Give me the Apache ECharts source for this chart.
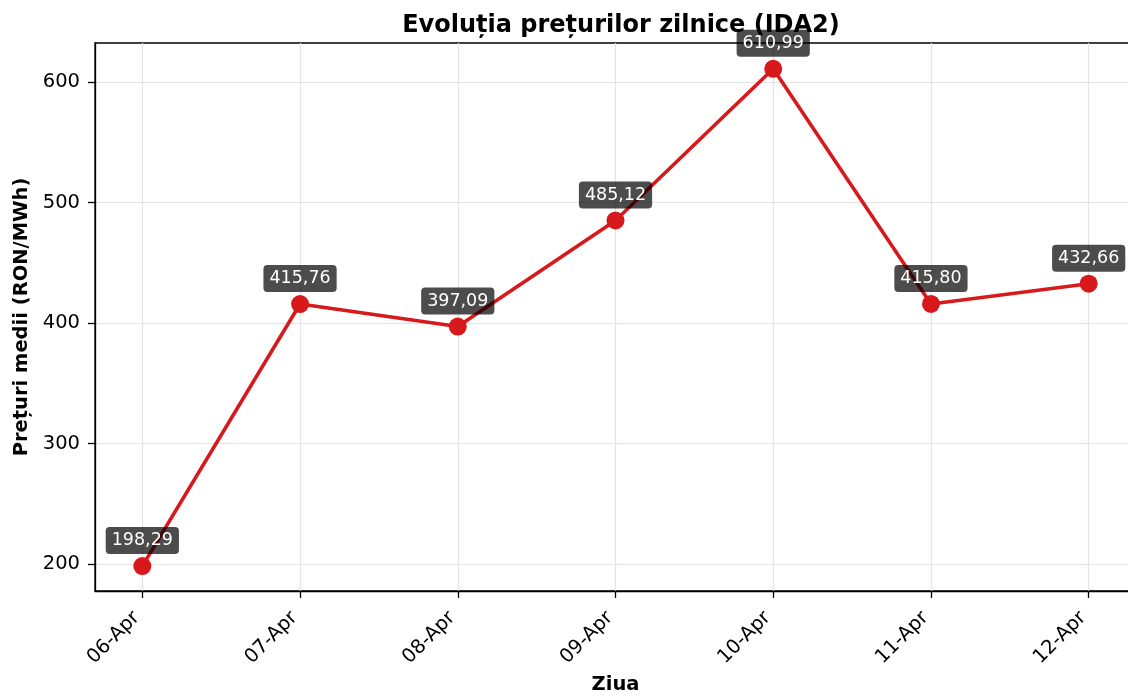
<!DOCTYPE html>
<html>
<head>
<meta charset="utf-8">
<script src="https://cdn.jsdelivr.net/npm/echarts@6/dist/echarts.min.js"></script>
<style>html,body{margin:0;padding:0;background:#fff;}#c{width:1128px;height:696px;}</style>
</head>
<body>
<div id="c"></div>
<script>
const categories = ['06-Apr','07-Apr','08-Apr','09-Apr','10-Apr','11-Apr','12-Apr'];
const prices = [198.29, 415.76, 397.09, 485.12, 610.99, 415.80, 432.66];
const yTicks = [200, 300, 400, 500, 600];

const FONT = 'DejaVu Sans';
const chart = echarts.init(document.getElementById('c'), null, {renderer: 'canvas'});
const idx = categories.map((_, i) => i);
chart.setOption({
  animation: false,
  backgroundColor: '#fff',
  textStyle: {fontFamily: FONT},
  title: {
    text: 'Evoluția prețurilor zilnice (IDA2)',
    left: 616, textAlign: 'center', top: 9,
    textStyle: {fontFamily: FONT, fontSize: 24, fontWeight: 'bold', color: '#000'}
  },
  grid: {left: 95, top: 43, width: 1041, height: 548, show: true, borderColor: '#000', borderWidth: 1.3,
    backgroundColor: 'transparent', containLabel: false, outerBoundsMode: 'none'},
  xAxis: {
    type: 'value', min: -0.3, max: 6.3,
    name: 'Ziua', nameLocation: 'middle', nameGap: 82,
    nameTextStyle: {fontFamily: FONT, fontSize: 19.5, fontWeight: 'bold', color: '#000'},
    axisLine: {show: true, onZero: false, lineStyle: {color: '#000', width: 1.3}},
    axisTick: {show: true, length: 7, customValues: idx, lineStyle: {color: '#000', width: 1.3}},
    axisLabel: {customValues: idx, rotate: 45, margin: 18, padding: [0, 8, 0, 0], fontSize: 19.5, color: '#000', fontFamily: FONT,
      formatter: v => categories[Math.round(v)] || ''},
    splitLine: {show: true, lineStyle: {color: '#e3e3e3', width: 1.2}}
  },
  yAxis: {
    type: 'value', min: 177.6, max: 632.4,
    name: 'Prețuri medii (RON/MWh)', nameLocation: 'middle', nameGap: 63,
    nameTextStyle: {fontFamily: FONT, fontSize: 19.5, fontWeight: 'bold', color: '#000'},
    axisLine: {show: true, onZero: false, lineStyle: {color: '#000', width: 1.3}},
    axisTick: {show: true, length: 7, customValues: yTicks, lineStyle: {color: '#000', width: 1.3}},
    axisLabel: {customValues: yTicks, margin: 15, fontSize: 19.5, color: '#000', fontFamily: FONT},
    splitLine: {show: true, lineStyle: {color: '#e3e3e3', width: 1.2}}
  },
  series: [{
    type: 'line',
    data: prices.map((p, i) => [i, p]),
    symbol: 'circle', symbolSize: 18,
    itemStyle: {color: '#d7191c'},
    lineStyle: {color: '#d7191c', width: 3.6},
    label: {
      show: true, position: 'top', distance: 3,
      formatter: p => p.value[1].toFixed(2).replace('.', ','),
      color: '#fff', fontSize: 17.5, fontFamily: FONT, lineHeight: 19,
      backgroundColor: 'rgba(0,0,0,0.7)', padding: [4, 6, 4, 6], borderRadius: 4
    },
    z: 3
  }]
});
</script>
</body>
</html>
